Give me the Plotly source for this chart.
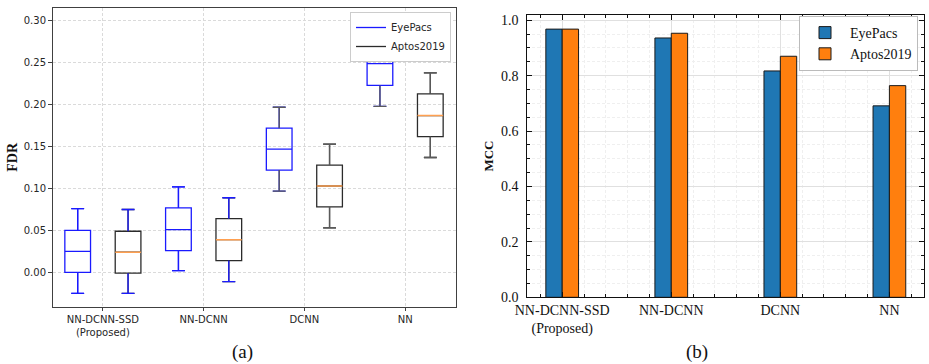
import plotly.graph_objects as go

# ---------------- data ----------------
categories = ["NN-DCNN-SSD<br>(Proposed)", "NN-DCNN", "DCNN", "NN"]
series_names = ["EyePacs", "Aptos2019"]

# FDR box statistics (panel a)
eyepacs_low = [-0.025, 0.002, 0.097, 0.198]
eyepacs_q1 = [0.000, 0.026, 0.122, 0.223]
eyepacs_med = [0.025, 0.051, 0.147, 0.249]
eyepacs_q3 = [0.050, 0.077, 0.172, 0.274]
eyepacs_high = [0.076, 0.102, 0.197, 0.299]

aptos_low = [-0.025, -0.011, 0.053, 0.137]
aptos_q1 = [-0.001, 0.014, 0.078, 0.162]
aptos_med = [0.024, 0.039, 0.103, 0.187]
aptos_q3 = [0.049, 0.064, 0.128, 0.213]
aptos_high = [0.075, 0.089, 0.153, 0.238]

# MCC (panel b)
eyepacs_mcc = [0.968, 0.936, 0.817, 0.691]
aptos_mcc = [0.968, 0.953, 0.870, 0.764]

# ---------------- styles ----------------
BLUE = "#1a1aff"
BOXBLACK = "#2b2b2b"
WGRAY = "#5a5a5a"
ORANGE_MED = "#ffa050"
whisker_colors = [BLUE, BLUE, WGRAY, WGRAY]
BOX_W = 0.255
OFFSET = 0.25
CAP_HALF = BOX_W * 0.25

SANS = "DejaVu Sans"
SERIF = "Liberation Serif"

idx = list(range(len(categories)))
pos_e = [i - OFFSET for i in idx]
pos_a = [i + OFFSET for i in idx]

fig = go.Figure()

# --- boxes (panel a)
fig.add_trace(go.Box(x=pos_e, q1=eyepacs_q1, median=eyepacs_med, q3=eyepacs_q3,
                     lowerfence=eyepacs_low, upperfence=eyepacs_high,
                     width=BOX_W, whiskerwidth=0.5, boxpoints=False,
                     line=dict(color=BLUE, width=1.3), fillcolor="rgba(0,0,0,0)",
                     showlegend=False, hoverinfo="skip", xaxis="x", yaxis="y"))
fig.add_trace(go.Box(x=pos_a, q1=aptos_q1, median=aptos_med, q3=aptos_q3,
                     lowerfence=aptos_low, upperfence=aptos_high,
                     width=BOX_W, whiskerwidth=0.5, boxpoints=False,
                     line=dict(color=BOXBLACK, width=1.3), fillcolor="rgba(0,0,0,0)",
                     showlegend=False, hoverinfo="skip", xaxis="x", yaxis="y"))

# whisker overlays, coloured per group
def whisker_paths(positions, lows, q1s, q3s, highs, color_of):
    paths = {}
    for i, (p, lo, a, b, hi) in enumerate(zip(positions, lows, q1s, q3s, highs)):
        c = color_of[i]
        xs, ys = paths.setdefault(c, ([], []))
        xs += [p, p, None, p, p, None,
               p - CAP_HALF, p + CAP_HALF, None, p - CAP_HALF, p + CAP_HALF, None]
        ys += [lo, a, None, b, hi, None, lo, lo, None, hi, hi, None]
    return paths

for pos, lo, a, b, hi in [(pos_e, eyepacs_low, eyepacs_q1, eyepacs_q3, eyepacs_high),
                          (pos_a, aptos_low, aptos_q1, aptos_q3, aptos_high)]:
    for c, (xs, ys) in whisker_paths(pos, lo, a, b, hi, whisker_colors).items():
        fig.add_trace(go.Scatter(x=xs, y=ys, mode="lines", line=dict(color=c, width=1.3),
                                 showlegend=False, hoverinfo="skip", xaxis="x", yaxis="y"))

# orange medians for Aptos2019
mx, my = [], []
for p, m in zip(pos_a, aptos_med):
    mx += [p - BOX_W / 2, p + BOX_W / 2, None]
    my += [m, m, None]
fig.add_trace(go.Scatter(x=mx, y=my, mode="lines", line=dict(color=ORANGE_MED, width=1.5),
                         showlegend=False, hoverinfo="skip", xaxis="x", yaxis="y"))

# legend proxies (panel a)
for name, c in zip(series_names, [BLUE, BOXBLACK]):
    fig.add_trace(go.Scatter(x=[None], y=[None], mode="lines", name=name,
                             line=dict(color=c, width=1.3), legend="legend",
                             xaxis="x", yaxis="y"))

# --- bars (panel b)
fig.add_trace(go.Bar(x=idx, y=eyepacs_mcc, name=series_names[0], marker=dict(
    color="#1f77b4", line=dict(color="#1a1a1a", width=1)), xaxis="x2", yaxis="y2",
    legend="legend2", offsetgroup="e"))
fig.add_trace(go.Bar(x=idx, y=aptos_mcc, name=series_names[1], marker=dict(
    color="#ff7f0e", line=dict(color="#1a1a1a", width=1)), xaxis="x2", yaxis="y2",
    legend="legend2", offsetgroup="a"))

W, H = 929, 364
def px(x): return x / W
def py(y): return 1 - y / H

GRID_A = "#dadada"
fig.update_layout(
    width=W, height=H, margin=dict(l=0, r=0, t=0, b=0, autoexpand=False),
    paper_bgcolor="white", plot_bgcolor="white",
    barmode="group", bargap=0.7, bargroupgap=0, boxmode="overlay",
    xaxis=dict(domain=[px(52.5), px(455.5)], range=[-0.5, 3.5], automargin=False,
               tickvals=idx, ticktext=categories,
               tickfont=dict(family=SANS, size=10, color="#262626"),
               showline=True, linecolor="#404040", linewidth=1, mirror=True,
               ticks="outside", ticklen=3.5, tickcolor="#404040",
               showgrid=True, gridcolor=GRID_A, griddash="3px,2px", gridwidth=0.8,
               zeroline=False, anchor="y"),
    yaxis=dict(domain=[py(306.7), py(8)], range=[-0.041, 0.3154], automargin=False,
               tickvals=[0, 0.05, 0.10, 0.15, 0.20, 0.25, 0.30], tickformat=".2f",
               tickfont=dict(family=SANS, size=10, color="#262626"),
               showline=True, linecolor="#404040", linewidth=1, mirror=True,
               ticks="outside", ticklen=3.5, tickcolor="#404040",
               showgrid=True, gridcolor=GRID_A, griddash="3px,2px", gridwidth=0.8,
               zeroline=False, anchor="x",
               title=dict(text="<b>FDR</b>", font=dict(family=SERIF, size=14, color="#111"),
                          standoff=2)),
    xaxis2=dict(domain=[px(527.3), px(924.3)], range=[-0.32, 3.32], automargin=False,
                tickvals=idx, ticktext=categories,
                tickfont=dict(family=SERIF, size=14, color="#111"),
                showline=True, linecolor="#111", linewidth=1.2, mirror="allticks",
                ticks="inside", ticklen=5, tickcolor="#111",
                showgrid=True, gridcolor="#e0e0e0", gridwidth=1,
                minor=dict(dtick=0.2, tick0=0, ticks="inside", ticklen=3,
                           tickcolor="#111", showgrid=True, gridcolor="#efefef",
                           griddash="3px,2px", gridwidth=0.8),
                zeroline=False, anchor="y2"),
    yaxis2=dict(domain=[py(297.3), py(14.7)], range=[0, 1.02], automargin=False,
                tickvals=[0, 0.2, 0.4, 0.6, 0.8, 1.0], tickformat=".1f",
                tickfont=dict(family=SERIF, size=14, color="#111"),
                showline=True, linecolor="#111", linewidth=1.2, mirror="allticks",
                ticks="inside", ticklen=5, tickcolor="#111", ticklabelstandoff=5,
                showgrid=True, gridcolor="#e0e0e0", gridwidth=1,
                minor=dict(dtick=0.05, tick0=0, ticks="inside", ticklen=3,
                           tickcolor="#111", showgrid=True, gridcolor="#efefef",
                           griddash="3px,2px", gridwidth=0.8),
                zeroline=False, anchor="x2",
                title=dict(text="<b>MCC</b>", font=dict(family=SERIF, size=13, color="#111"),
                           standoff=4)),
    legend=dict(x=px(451), y=py(12), xanchor="right", yanchor="top",
                bgcolor="white", bordercolor="#cccccc", borderwidth=1,
                font=dict(family=SANS, size=10, color="#262626"),
                itemwidth=30, tracegroupgap=0),
    legend2=dict(x=px(918), y=py(16), xanchor="right", yanchor="top",
                 bgcolor="white", bordercolor="#bbbbbb", borderwidth=1,
                 font=dict(family=SERIF, size=14, color="#111"),
                 itemwidth=40, tracegroupgap=0),
    annotations=[
        dict(text="(a)", x=px(230), y=py(352), xref="paper", yref="paper",
             yanchor="middle", showarrow=False, font=dict(family=SERIF, size=19, color="#111")),
        dict(text="(b)", x=px(710), y=py(352), xref="paper", yref="paper",
             yanchor="middle", showarrow=False, font=dict(family=SERIF, size=19, color="#111")),
    ],
)

fig.write_html("out.html", config={"displayModeBar": False},
               post_script="document.body.style.margin='0';document.body.style.overflow='hidden';")
